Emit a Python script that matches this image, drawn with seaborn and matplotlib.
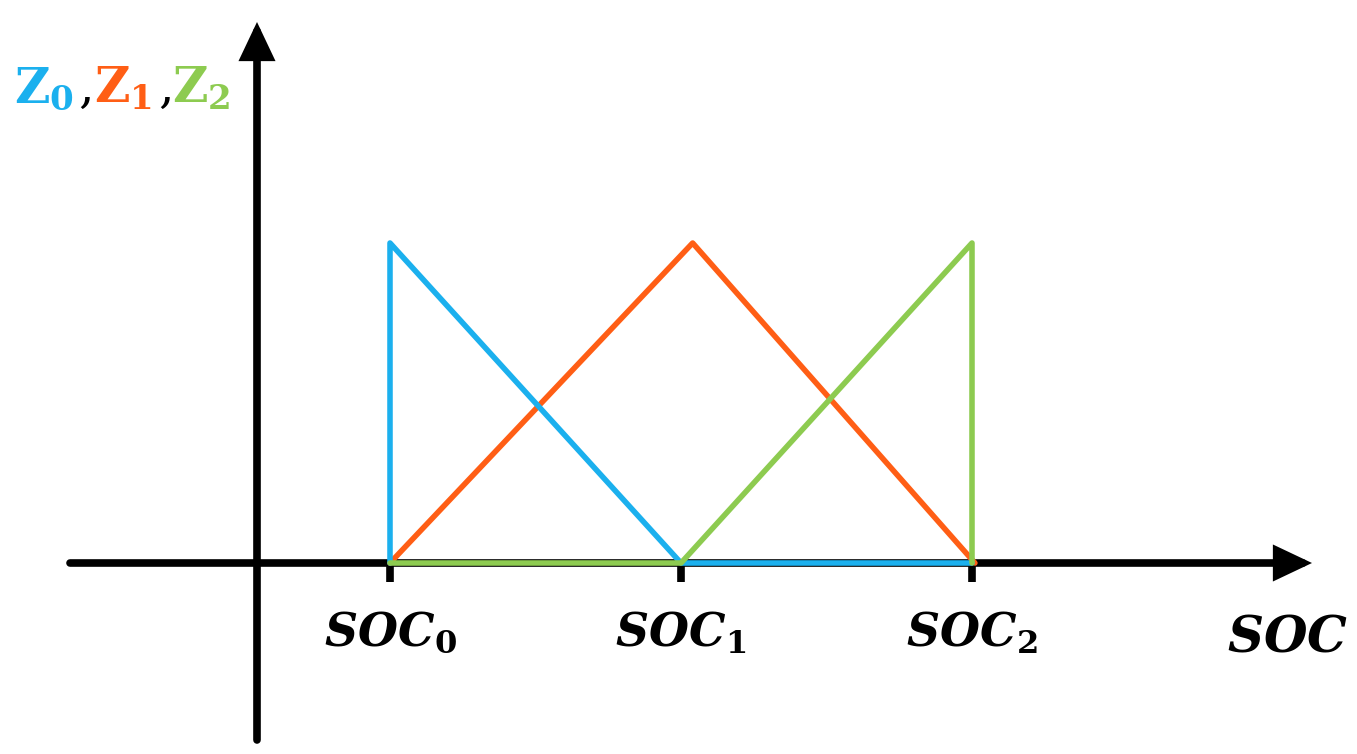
import numpy as np
import pandas as pd
import matplotlib
matplotlib.use("Agg")
import matplotlib.pyplot as plt
import seaborn as sns

# ---- data (membership functions over SOC) ----
soc_ticks = [0, 1, 2]
soc_labels = [r'$\mathbfit{SOC}_{\mathbf{0}}$', r'$\mathbfit{SOC}_{\mathbf{1}}$', r'$\mathbfit{SOC}_{\mathbf{2}}$']

z0_x = [0, 0, 1, 2]
z0_y = [0, 1, 0, 0]
z1_x = [0, 1.04, 2.01]
z1_y = [0, 1, 0]
z2_x = [0, 1, 2, 2]
z2_y = [0, 0, 1, 0]

series_colors = {'Z0': '#1BB0EE', 'Z1': '#FF5E15', 'Z2': '#8DCB50'}

# ---- figure setup ----
sns.set_style("white")
plt.rcParams['mathtext.fontset'] = 'dejavuserif'
plt.rcParams['font.family'] = ['DejaVu Serif']

W, H = 1357, 754
fig = plt.figure(figsize=(W / 100, H / 100), dpi=100)
ax = fig.add_axes([0, 0, 1, 1])

# pixel -> data helpers (px of reference image)
px_x0, px_unit_x = 390, 291
px_y0, px_unit_y = 563, 320
ax.set_xlim(-px_x0 / px_unit_x, (W - px_x0) / px_unit_x)
ax.set_ylim(-(H - px_y0) / px_unit_y, px_y0 / px_unit_y)

def dx(px):
    return (px - px_x0) / px_unit_x

def dy(py):
    return (px_y0 - py) / px_unit_y

# ---- axes drawn as arrows ----
arrow_kw = dict(arrowstyle='-|>,head_length=0.95,head_width=0.45', mutation_scale=20,
                lw=5.5, color='black', shrinkA=0, shrinkB=0, joinstyle='miter')
ax.annotate('', xy=(dx(1312), 0), xytext=(dx(70), 0), arrowprops=arrow_kw, zorder=1)
ax.annotate('', xy=(dx(257), dy(22)), xytext=(dx(257), dy(740)), arrowprops=arrow_kw, zorder=1)

for s in ax.spines.values():
    s.set_visible(False)
ax.spines['bottom'].set_position(('data', 0))

# ---- membership lines ----
lines = {'Z1': (z1_x, z1_y), 'Z0': (z0_x, z0_y), 'Z2': (z2_x, z2_y)}
for name, (xs, ys) in lines.items():
    sns.lineplot(x=xs, y=ys, ax=ax, estimator=None, sort=False,
                 color=series_colors[name], lw=4, zorder=3)

# ---- ticks ----
ax.set_xticks(soc_ticks)
ax.set_xticklabels(soc_labels, fontsize=33, color='black')
ax.tick_params(axis='x', direction='out', length=14, width=5.5, color='black', pad=20,
               bottom=True, labelcolor='black')
ax.set_yticks([])
ax.set_xlabel('')
ax.set_ylabel('')

# ---- axis titles ----
tf = ax.transAxes
ax.text(1287 / W, 1 - 652 / H, r'$\mathbfit{SOC}$', transform=tf, fontsize=36,
        ha='center', va='baseline', color='black')

y_base = 1 - 102 / H
parts = [(14, r'$\mathbf{Z}_{\mathbf{0}}$', series_colors['Z0']),
         (78, r'$,$', 'black'),
         (94, r'$\mathbf{Z}_{\mathbf{1}}$', series_colors['Z1']),
         (158, r'$,$', 'black'),
         (172, r'$\mathbf{Z}_{\mathbf{2}}$', series_colors['Z2'])]
for px, txt, col in parts:
    ax.text(px / W, y_base, txt, transform=tf, fontsize=35, color=col,
            ha='left', va='baseline')

fig.savefig('out.png', dpi=100)
